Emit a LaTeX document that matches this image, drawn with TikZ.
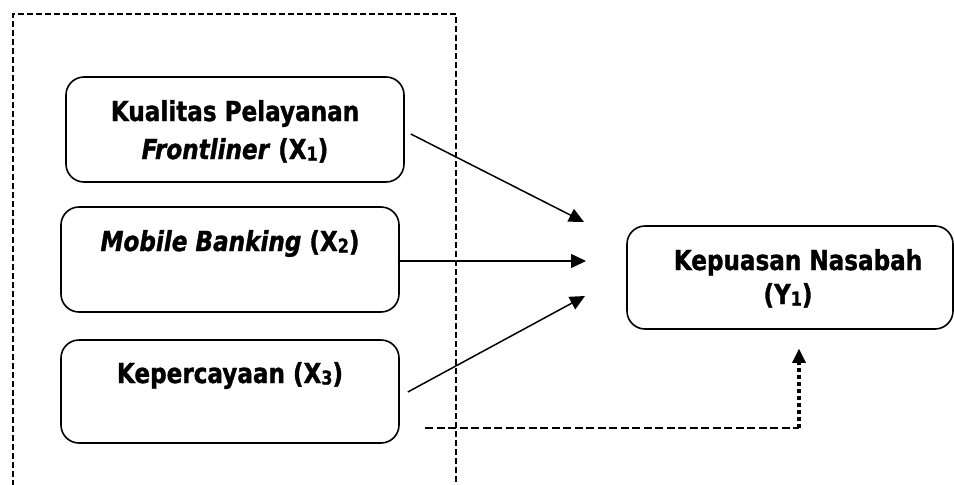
\documentclass[tikz,border=0pt]{standalone}
\usepackage{fontspec}
\setmainfont{DejaVu Sans}[FakeStretch=0.84,BoldFeatures={FakeBold=1.2},BoldItalicFeatures={FakeBold=1.2}]
\usetikzlibrary{arrows.meta}
\newcommand\subdig[1]{\raisebox{-1.5pt}{\fontsize{19}{20}\selectfont #1}}
\begin{document}
\begin{tikzpicture}[x=1pt,y=-1pt,
  boxst/.style={draw,line width=1.6pt,rounded corners=18pt,inner sep=0pt},
  txt/.style={font=\fontsize{27.5}{34}\selectfont\bfseries,inner sep=0pt,anchor=base},
  arr/.style={line width=1.5pt,-{Triangle[length=15pt,width=14pt]}},
  framest/.style={line width=2pt,dash pattern=on 6pt off 3pt},
  dashst/.style={line width=2.4pt,dash pattern=on 8pt off 3.5pt},
  dotst/.style={line width=3.2pt,dash pattern=on 4pt off 3pt,-{Triangle[length=14pt,width=14pt,line width=0pt]}}]
\useasboundingbox (0,0) rectangle (954,485);
% frame
\coordinate (f1) at (13,486);
\coordinate (f2) at (13,14);
\coordinate (f3) at (456,14);
\coordinate (f4) at (456,486);
\draw[framest] (f1) -- (f2) -- (f3) -- (f4);
% boxes
\node[boxst,minimum width=338pt,minimum height=105pt] (x1) at (235,129.5) {};
\node[boxst,minimum width=338pt,minimum height=105pt] (x2) at (230,259.5) {};
\node[boxst,minimum width=338pt,minimum height=103pt] (x3) at (230,391.5) {};
\node[boxst,minimum width=326pt,minimum height=103pt] (y) at (790,277.5) {};
% texts
\node[txt] (t1a) at (235,121) {Kualitas Pelayanan};
\node[txt] (t1b) at (235,159) {\textit{Frontliner} (X\subdig{1})};
\node[txt] (t2) at (230,251) {\textit{Mobile Banking} (X\subdig{2})};
\node[txt] (t3) at (230,383) {Kepercayaan (X\subdig{3})};
\node[txt] (ty1) at (798,270) {Kepuasan Nasabah};
\node[txt] (ty2) at (788,304) {(Y\subdig{1})};
% arrow tips
\coordinate (p1) at (584,222);
\coordinate (p2) at (586,261);
\coordinate (p3) at (585,296);
\draw[arr] ([xshift=6pt,yshift=-4.5pt]x1.east) -- (p1);
\draw[arr] ([xshift=-2pt,yshift=-1.5pt]x2.east) -- (p2);
\draw[arr] ([xshift=8pt,yshift=-0.5pt]x3.east) -- (p3);
% dashed connector
\coordinate (d0) at (425,428);
\coordinate (d1) at (799,428);
\draw[dashst] (d0) -- (d1);
\draw[dotst] (d1) -- ([xshift=9pt,yshift=-19pt]y.south);
\end{tikzpicture}
\end{document}
